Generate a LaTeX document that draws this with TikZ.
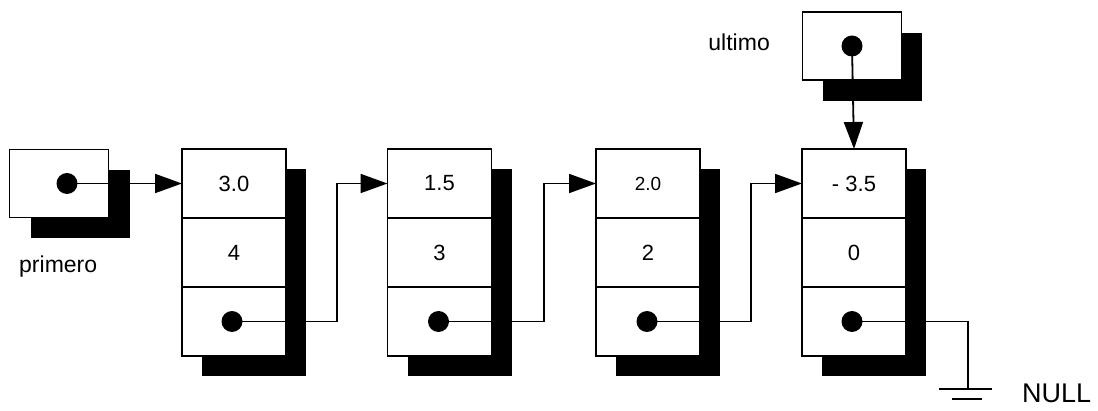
\documentclass[tikz,border=0pt]{standalone}
\usepackage{fontspec}
\setmainfont{Liberation Sans}
\usetikzlibrary{arrows.meta,backgrounds,calc}
\begin{document}
\begin{tikzpicture}[x=1pt,y=-1pt,
  box/.style={draw,line width=1.8pt,fill=white,minimum width=104pt,minimum height=69pt,inner sep=0pt,outer sep=0pt,font=\fontsize{22}{26}\selectfont},
  ptr/.style={box,minimum width=99pt,minimum height=68pt},
  dot/.style={circle,fill=black,inner sep=0pt,minimum size=21pt},
  link/.style={line width=1.8pt,-{Triangle[length=27pt,width=19pt]}},
  wire/.style={line width=1.8pt},
  shade/.style={fill=black},
  lbl/.style={inner sep=0pt,font=\fontsize{23}{27}\selectfont}]
\useasboundingbox (0,0) rectangle (1098,411);
% pointer boxes
\node[ptr] (p) at (59,183.5) {};
\node[ptr] (u) at (852,46) {};
% list nodes
\node[box] (n1a) at (234,183.5) {3.0};
\node[box,anchor=north] (n1b) at (n1a.south) {4};
\node[box,anchor=north] (n1c) at (n1b.south) {};
\node[box] (n2a) at (439.5,183.5) {1.5};
\node[box,anchor=north] (n2b) at (n2a.south) {3};
\node[box,anchor=north] (n2c) at (n2b.south) {};
\node[box,font=\fontsize{19}{23}\selectfont] (n3a) at (648,183.5) {2.0};
\node[box,anchor=north] (n3b) at (n3a.south) {2};
\node[box,anchor=north] (n3c) at (n3b.south) {};
\node[box] (n4a) at (854,183.5) {- 3.5};
\node[box,anchor=north] (n4b) at (n4a.south) {0};
\node[box,anchor=north] (n4c) at (n4b.south) {};
% shadows
\begin{scope}[on background layer]
\fill[shade] ([shift={(21,21)}]p.north west) rectangle ([shift={(21,21)}]p.south east);
\fill[shade] ([shift={(20,21)}]u.north west) rectangle ([shift={(20,21)}]u.south east);
\fill[shade] ([shift={(20,20)}]n1a.north west) rectangle ([shift={(20,20)}]n1c.south east);
\fill[shade] ([shift={(20,20)}]n2a.north west) rectangle ([shift={(20,20)}]n2c.south east);
\fill[shade] ([shift={(20,20)}]n3a.north west) rectangle ([shift={(20,20)}]n3c.south east);
\fill[shade] ([shift={(20,20)}]n4a.north west) rectangle ([shift={(20,20)}]n4c.south east);
\end{scope}
% labels
\node[lbl,anchor=base west] (lp) at (19,273) {primero};
\node[lbl,anchor=base east] (lu) at (770,51) {ultimo};
\node[lbl,font=\fontsize{27}{31}\selectfont,anchor=base west] (lnull) at (1022,403) {NULL};
% midpoints for links
\coordinate (m1) at ($(n1c.east)!0.5!(n2a.west)$);
\coordinate (m2) at ($(n2c.east)!0.5!(n3a.west)$);
\coordinate (m3) at ($(n3c.east)!0.5!(n4a.west)$);
\coordinate (g) at (968,389);
% dots
\node[dot] (dp) at (67,183.5) {};
\node[dot] (du) at (u.center) {};
\node[dot] (d1) at ([xshift=-2pt]n1c.center) {};
\node[dot] (d2) at ([xshift=-1pt]n2c.center) {};
\node[dot] (d3) at ([xshift=-1pt]n3c.center) {};
\node[dot] (d4) at ([xshift=-2pt]n4c.center) {};
% connectors
\draw[link] (dp.center) -- (n1a.west);
\draw[link] (d1.center) -| (m1) |- (n2a.west);
\draw[link] (d2.center) -| (m2) |- (n3a.west);
\draw[link] (d3.center) -| (m3) |- (n4a.west);
\draw[link] (du.center) -- (n4a.north);
\draw[wire] (d4.center) -| (g);
\draw[wire] ([xshift=-29pt]g) -- ([xshift=24pt]g);
\draw[wire] ($(g)+(-16,10)$) -- ($(g)+(14,10)$);
\end{tikzpicture}
\end{document}
